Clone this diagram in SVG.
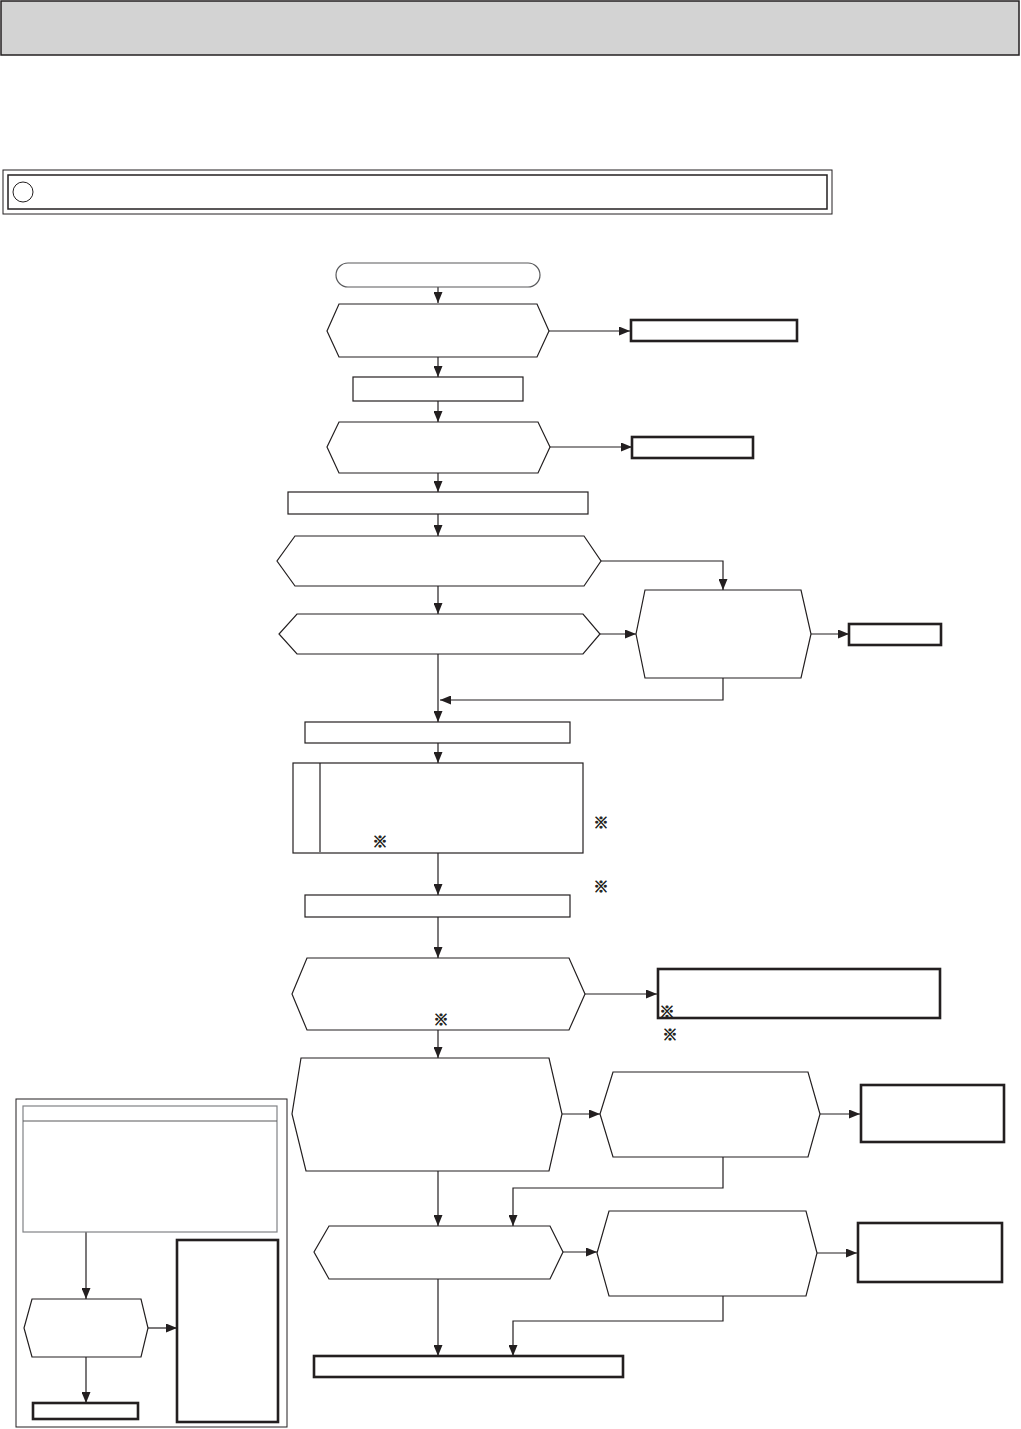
<svg xmlns="http://www.w3.org/2000/svg" width="1021" height="1429" viewBox="0 0 1021 1429">
<style>
.n{fill:#fff;stroke:#231f20;stroke-width:1.2}
.g{fill:#fff;stroke:#58595b;stroke-width:1.2}
.b{fill:#fff;stroke:#231f20;stroke-width:2.6}
.c{fill:none;stroke:#231f20;stroke-width:1.2}
.k{font-family:"Noto Sans CJK JP","DejaVu Sans",sans-serif;font-size:15px;font-weight:bold;fill:#231f20;stroke:#231f20;stroke-width:0.7;text-anchor:middle;dominant-baseline:central}
</style>
<defs>
<marker id="a" markerUnits="userSpaceOnUse" markerWidth="11" markerHeight="9" refX="11" refY="4.5" orient="auto">
<path d="M0,0 L11,4.5 L0,9 z" fill="#231f20"/>
</marker>
</defs>
<rect width="1021" height="1429" fill="#fff"/>
<g id="header"><rect x="1" y="1" width="1018" height="54" fill="#d3d3d3" stroke="#231f20" stroke-width="1.5"/></g>
<g id="title">
<rect x="3" y="170" width="829" height="44" fill="none" stroke="#231f20" stroke-width="1"/>
<rect x="8" y="175" width="819" height="34" fill="none" stroke="#231f20" stroke-width="1.5"/>
<circle cx="23" cy="192" r="10" fill="none" stroke="#231f20" stroke-width="1"/>
</g>
<g id="connectors">
<path class="c" d="M438,287 V303" marker-end="url(#a)"/>
<path class="c" d="M549,331 H630" marker-end="url(#a)"/>
<path class="c" d="M438,357 V377" marker-end="url(#a)"/>
<path class="c" d="M438,401 V422" marker-end="url(#a)"/>
<path class="c" d="M549,447 H632" marker-end="url(#a)"/>
<path class="c" d="M438,473 V492" marker-end="url(#a)"/>
<path class="c" d="M438,514 V536" marker-end="url(#a)"/>
<path class="c" d="M601,561 H723 V590" marker-end="url(#a)"/>
<path class="c" d="M438,586 V614" marker-end="url(#a)"/>
<path class="c" d="M600,634 H636" marker-end="url(#a)"/>
<path class="c" d="M811,634 H849" marker-end="url(#a)"/>
<path class="c" d="M723,678 V700 H440" marker-end="url(#a)"/>
<path class="c" d="M438,654 V722" marker-end="url(#a)"/>
<path class="c" d="M438,743 V763" marker-end="url(#a)"/>
<path class="c" d="M438,853 V895" marker-end="url(#a)"/>
<path class="c" d="M438,917 V958" marker-end="url(#a)"/>
<path class="c" d="M585,994 H657" marker-end="url(#a)"/>
<path class="c" d="M438,1030 V1058" marker-end="url(#a)"/>
<path class="c" d="M562,1114 H600" marker-end="url(#a)"/>
<path class="c" d="M820,1114 H860" marker-end="url(#a)"/>
<path class="c" d="M723,1157 V1188 H513 V1226" marker-end="url(#a)"/>
<path class="c" d="M438,1171 V1226" marker-end="url(#a)"/>
<path class="c" d="M563,1252 H597" marker-end="url(#a)"/>
<path class="c" d="M817,1253 H857" marker-end="url(#a)"/>
<path class="c" d="M723,1296 V1321 H513 V1356" marker-end="url(#a)"/>
<path class="c" d="M438,1279 V1356" marker-end="url(#a)"/>
<path class="c" d="M86,1232 V1299" marker-end="url(#a)"/>
<path class="c" d="M148,1328 H177" marker-end="url(#a)"/>
<path class="c" d="M86,1357 V1403" marker-end="url(#a)"/>
</g>
<g id="start"><rect class="g" x="336" y="263" width="204" height="24" rx="12"/></g>
<g id="d1"><polygon class="n" points="339,304 537,304 549,331 537,357 339,357 327,331"/></g>
<g id="r1"><rect class="b" x="631" y="320" width="166" height="21"/></g>
<g id="p1"><rect class="n" x="353" y="377" width="170" height="24"/></g>
<g id="d2"><polygon class="n" points="339,422 538,422 550,447 538,473 339,473 327,447"/></g>
<g id="r2"><rect class="b" x="632" y="437" width="121" height="21"/></g>
<g id="p2"><rect class="n" x="288" y="492" width="300" height="22"/></g>
<g id="d3"><polygon class="n" points="295,536 584,536 601,561 584,586 295,586 277,561"/></g>
<g id="d4"><polygon class="n" points="297,614 583,614 600,634 583,654 297,654 279,634"/></g>
<g id="d5box"><polygon class="n" points="645,590 801,590 811,634 801,678 645,678 636,634"/></g>
<g id="r3"><rect class="b" x="849" y="624" width="92" height="21"/></g>
<g id="p3"><rect class="n" x="305" y="722" width="265" height="21"/></g>
<g id="p4">
<rect class="n" x="293" y="763" width="290" height="90"/>
<line class="c" x1="320" y1="763" x2="320" y2="852"/>
<text class="k" x="380" y="840">※︎</text>
</g>
<g id="notes1">
<text class="k" x="601" y="821">※︎</text>
<text class="k" x="601" y="885">※︎</text>
</g>
<g id="p5"><rect class="n" x="305" y="895" width="265" height="22"/></g>
<g id="d6">
<polygon class="n" points="307,958 569,958 585,994 569,1030 307,1030 292,994"/>
<text class="k" x="441" y="1018">※︎</text>
</g>
<g id="r4">
<rect class="b" x="658" y="969" width="282" height="49"/>
<text class="k" x="667" y="1010">※︎</text>
</g>
<g id="notes2"><text class="k" x="670" y="1033">※︎</text></g>
<g id="d7"><polygon class="n" points="301,1058 549,1058 562,1114 549,1171 306,1171 292,1114"/></g>
<g id="d8"><polygon class="n" points="613,1072 808,1072 820,1114 808,1157 613,1157 600,1114"/></g>
<g id="r5"><rect class="b" x="861" y="1085" width="143" height="57"/></g>
<g id="d9"><polygon class="n" points="329,1226 550,1226 563,1252 550,1279 329,1279 314,1252"/></g>
<g id="d10"><polygon class="n" points="609,1211 806,1211 817,1253 806,1296 609,1296 597,1253"/></g>
<g id="r6"><rect class="b" x="858" y="1223" width="144" height="59"/></g>
<g id="end"><rect class="b" x="314" y="1356" width="309" height="21"/></g>
<g id="legend">
<rect x="16" y="1099" width="271" height="328" fill="none" stroke="#231f20" stroke-width="1"/>
<rect x="23" y="1106" width="254" height="126" fill="#fff" stroke="#808285" stroke-width="1.2"/>
<line x1="23" y1="1121" x2="277" y2="1121" stroke="#58595b" stroke-width="1.2"/>
<polygon class="n" points="32,1299 141,1299 148,1328 141,1357 32,1357 24,1328"/>
<rect class="b" x="177" y="1240" width="101" height="182"/>
<rect class="b" x="33" y="1403" width="105" height="16"/>
</g>
</svg>
